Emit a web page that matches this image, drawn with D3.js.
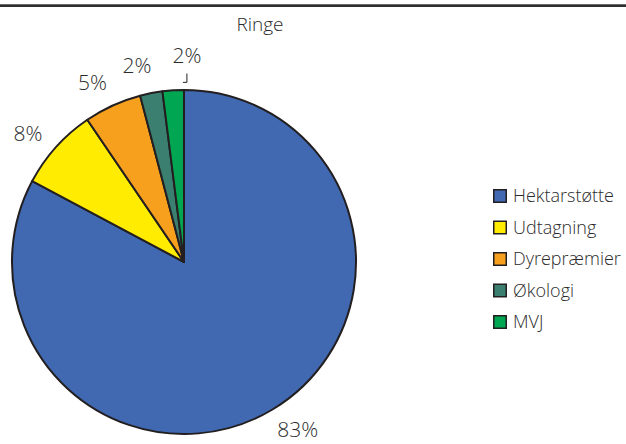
<!DOCTYPE html>
<html>
<head>
<meta charset="utf-8">
<script src="https://cdn.jsdelivr.net/npm/d3@7"></script>
<style>
  html, body { margin: 0; padding: 0; background: #fff; }
  svg { display: block; }
  text { font-family: "Open Sans", "Noto Sans", sans-serif; font-weight: 300; fill: #2b2b2b; }
</style>
</head>
<body>
<svg id="chart" width="626" height="444"></svg>
<script>
const title = "Ringe";
const categories = ["Hektarstøtte", "Udtagning", "Dyrepræmier", "Økologi", "MVJ"];
const values = [82.8, 7.7, 5.4, 2.1, 2.0];
const labels = ["83%", "8%", "5%", "2%", "2%"];
const colors = ["#4169B2", "#FFEC00", "#F6A01E", "#3A7F70", "#00A651"];

const svg = d3.select("#chart");
const W = 626, H = 444;
const cx = 184, cy = 262, R = 172;

// top rule
svg.append("rect").attr("x", 0).attr("y", 4).attr("width", W).attr("height", 3).attr("fill", "#2e2e2e");
svg.append("rect").attr("x", 0).attr("y", 4).attr("width", W).attr("height", 1).attr("fill", "#6a6a6a");

svg.append("text").attr("x", 260).attr("y", 31).attr("text-anchor", "middle")
  .style("font-size", "19px").text(title);

const data = categories.map((c, i) => ({ cat: c, value: values[i], label: labels[i], color: colors[i] }));
const pie = d3.pie().value(d => d.value).sort(null).startAngle(0).endAngle(2 * Math.PI);
const arcs = pie(data);
const arc = d3.arc().innerRadius(0).outerRadius(R);
const LR = 202;

const g = svg.append("g").attr("transform", `translate(${cx},${cy})`);
g.selectAll("path.slice").data(arcs).enter().append("path")
  .attr("class", "slice")
  .attr("d", arc)
  .attr("fill", d => d.data.color)
  .attr("stroke", "#231f20")
  .attr("stroke-width", 2)
  .attr("stroke-linejoin", "round");

// label positions: on a circle of radius LR, kept inside the canvas, with a simple collision nudge
const shift = -2.5 * Math.PI / 180;
const pos = arcs.map(a => {
  let ang = (a.startAngle + a.endAngle) / 2 + shift;
  let x = Math.sin(ang) * LR, y = -Math.cos(ang) * LR;
  const maxY = H - 15 - cy;
  if (y > maxY) {
    y = maxY;
    const s = Math.sqrt(LR * LR - y * y);
    x = Math.sin(ang) >= 0 ? s : -s;
  }
  return { x, y, a };
});
for (let i = 1; i < pos.length; i++) {
  const p = pos[i], q = pos[i - 1];
  if (Math.abs(p.y - q.y) < 22 && Math.abs(p.x - q.x) < 36) {
    p.leader = true;
    p.x = q.x + 50;
    p.y = q.y - 10;
  }
}
pos.forEach(p => {
  g.append("text")
    .attr("x", p.x).attr("y", p.y)
    .attr("text-anchor", "middle")
    .attr("dy", "0.36em")
    .style("font-size", "21px")
    .text(p.a.data.label);
  if (p.leader) {
    const mid = (p.a.startAngle + p.a.endAngle) / 2;
    const sy = -Math.cos(mid) * (R + 8);
    g.append("path")
      .attr("d", `M${p.x - 4},${sy}L${p.x},${sy}L${p.x},${p.y + 18}`)
      .attr("fill", "none").attr("stroke", "#231f20").attr("stroke-width", 1);
  }
});

// legend
const lg = svg.append("g").attr("transform", "translate(493,196)");
const rows = lg.selectAll("g").data(data).enter().append("g")
  .attr("transform", (d, i) => `translate(0,${i * 31.5})`);
rows.append("rect").attr("x", 0.75).attr("y", -6.25).attr("width", 12.5).attr("height", 12.5)
  .attr("fill", d => d.color).attr("stroke", "#231f20").attr("stroke-width", 1.5);
rows.append("text").attr("x", 20).attr("y", 0).attr("dy", "0.36em")
  .style("font-size", "18px").text(d => d.cat);
</script>
</body>
</html>
